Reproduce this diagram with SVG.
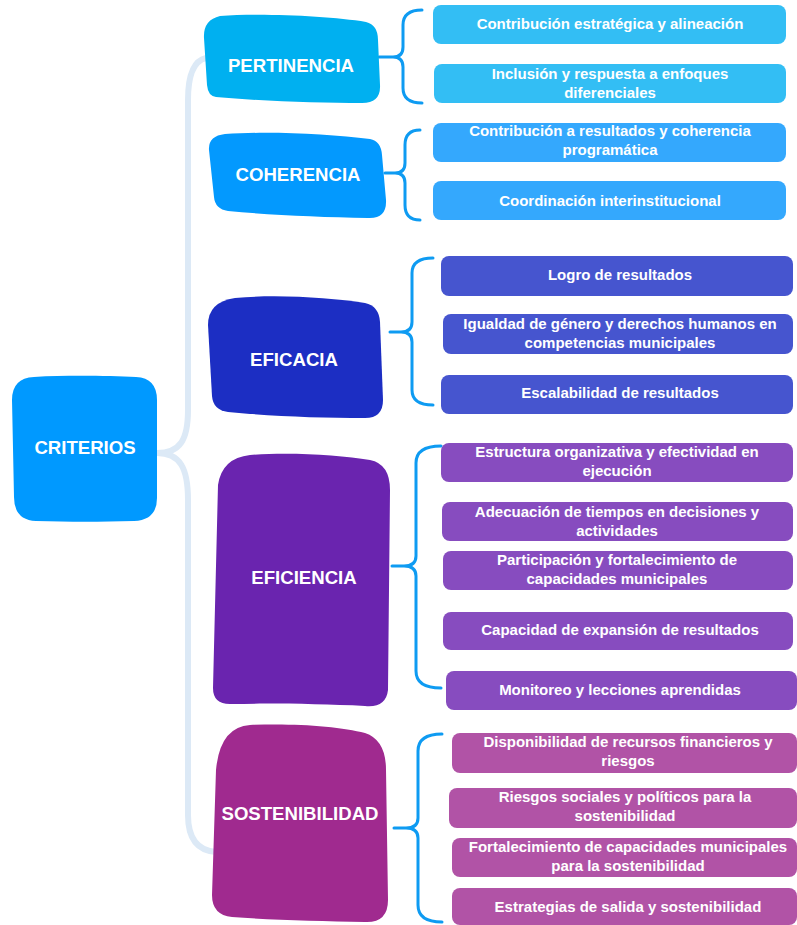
<svg xmlns="http://www.w3.org/2000/svg" width="797" height="925" viewBox="0 0 797 925">
<style>
.main{font-family:"Liberation Sans",Arial,sans-serif;font-weight:bold;font-size:18.6px;fill:#fff;text-anchor:middle}
.leaf{font-family:"Liberation Sans",Arial,sans-serif;font-weight:bold;font-size:15px;fill:#fff;text-anchor:middle}
.trunk{fill:none;stroke:#DCE9F6;stroke-width:6;stroke-linecap:round}
.brace{fill:none;stroke:#0E9BF2;stroke-width:3;stroke-linecap:round;stroke-linejoin:round}
.lp{fill:#33BEF4}.lc{fill:#34A8FD}.la{fill:#4655CF}.le{fill:#874CBF}.ls{fill:#B153A6}
</style>
<rect width="797" height="925" fill="#fff"/>
<g id="connectors">
<path class="trunk" d="M157,453 C180,453 188,440 188,410 L188,100 Q188,62 206,58"/>
<path class="trunk" d="M157,453 C180,453 188,468 188,500 L188,815 Q188,850 216,852"/>
<path class="brace" d="M379,57 L393,57 M422,10 Q403,10 403,25 L403,47 Q403,57 393,57 Q403,57 403,67 L403,88 Q403,103 422,103"/>
<path class="brace" d="M385,173 L395,173 M420,130 Q405,130 405,145 L405,163 Q405,173 395,173 Q405,173 405,183 L405,205 Q405,220 420,220"/>
<path class="brace" d="M390,332 L401,332 M433,258 Q412,258 412,273 L412,322 Q412,332 401,332 Q412,332 412,342 L412,390 Q412,405 433,405"/>
<path class="brace" d="M392,566 L404,566 M441,446 Q416,446 416,463 L416,556 Q416,566 404,566 Q416,566 416,576 L416,671 Q416,688 441,688"/>
<path class="brace" d="M394,828 L406,828 M442,734 Q418,734 418,751 L418,818 Q418,828 406,828 Q418,828 418,838 L418,905 Q418,922 442,922"/>
</g>
<g id="criterios">
<path d="M34,377 C70,375 110,376 136,377 Q157,378 157,400 L157,498 Q157,520 134,521 C100,522 70,522 36,521 Q14,520 14,497 L12,400 Q12,378 34,377 Z" fill="#0099FF"/>
<text class="main" x="85" y="454">CRITERIOS</text>
</g>
<g id="pertinencia">
<path d="M220,16 C260,13 330,16 366,22 Q378,25 378,40 L380,85 Q381,103 362,103 C320,103 260,101 216,97 Q208,96 207,85 L204,38 Q203,20 220,16 Z" fill="#00B0F0"/>
<text class="main" x="291" y="72">PERTINENCIA</text>
</g>
<g id="coherencia">
<path d="M225,134 C270,131 330,134 370,139 Q381,141 382,155 L386,200 Q387,219 368,218 C320,217 270,215 228,211 Q215,209 214,197 L209,150 Q208,136 225,134 Z" fill="#0399FE"/>
<text class="main" x="298" y="181">COHERENCIA</text>
</g>
<g id="eficacia">
<path d="M235,298 C280,294 330,298 365,303 Q379,306 380,322 L383,400 Q383,418 365,418 C320,418 270,416 228,412 Q213,410 212,396 L208,325 Q208,302 235,298 Z" fill="#1C2EC3"/>
<text class="main" x="294" y="366">EFICACIA</text>
</g>
<g id="eficiencia">
<path d="M250,455 C290,452 340,455 370,460 Q390,464 390,490 L388,690 Q386,708 365,706 C320,704 270,703 232,704 Q213,705 213,688 L218,485 Q222,458 250,455 Z" fill="#6A24AF"/>
<text class="main" x="304" y="584">EFICIENCIA</text>
</g>
<g id="sostenibilidad">
<path d="M250,725 C290,723 340,726 365,733 Q386,740 386,770 L388,900 Q388,923 365,922 C320,921 270,920 232,917 Q212,915 212,895 L216,770 Q220,727 250,725 Z" fill="#A02A8F"/>
<text class="main" x="300" y="820">SOSTENIBILIDAD</text>
</g>
<g id="leaf1"><rect class="lp" x="433" y="5" width="353" height="39" rx="8"/><text class="leaf" x="610" y="29">Contribución estratégica y alineación</text></g>
<g id="leaf2"><rect class="lp" x="434" y="64" width="352" height="39" rx="8"/><text class="leaf" x="610" y="79">Inclusión y respuesta a enfoques</text><text class="leaf" x="610" y="98">diferenciales</text></g>
<g id="leaf3"><rect class="lc" x="433" y="123" width="353" height="39" rx="8"/><text class="leaf" x="610" y="136">Contribución a resultados y coherencia</text><text class="leaf" x="610" y="155">programática</text></g>
<g id="leaf4"><rect class="lc" x="433" y="181" width="353" height="39" rx="8"/><text class="leaf" x="610" y="206">Coordinación interinstitucional</text></g>
<g id="leaf5"><rect class="la" x="441" y="256" width="352" height="40" rx="8"/><text class="leaf" x="620" y="280">Logro de resultados</text></g>
<g id="leaf6"><rect class="la" x="443" y="314" width="350" height="40" rx="8"/><text class="leaf" x="620" y="329">Igualdad de género y derechos humanos en</text><text class="leaf" x="620" y="348">competencias municipales</text></g>
<g id="leaf7"><rect class="la" x="441" y="375" width="352" height="39" rx="8"/><text class="leaf" x="620" y="398">Escalabilidad de resultados</text></g>
<g id="leaf8"><rect class="le" x="441" y="443" width="352" height="39" rx="8"/><text class="leaf" x="617" y="457">Estructura organizativa y efectividad en</text><text class="leaf" x="617" y="476">ejecución</text></g>
<g id="leaf9"><rect class="le" x="442" y="502" width="351" height="39" rx="8"/><text class="leaf" x="617" y="517">Adecuación de tiempos en decisiones y</text><text class="leaf" x="617" y="536">actividades</text></g>
<g id="leaf10"><rect class="le" x="443" y="551" width="350" height="39" rx="8"/><text class="leaf" x="617" y="565">Participación y fortalecimiento de</text><text class="leaf" x="617" y="584">capacidades municipales</text></g>
<g id="leaf11"><rect class="le" x="443" y="612" width="350" height="38" rx="8"/><text class="leaf" x="620" y="635">Capacidad de expansión de resultados</text></g>
<g id="leaf12"><rect class="le" x="446" y="671" width="351" height="39" rx="8"/><text class="leaf" x="620" y="695">Monitoreo y lecciones aprendidas</text></g>
<g id="leaf13"><rect class="ls" x="452" y="733" width="345" height="40" rx="8"/><text class="leaf" x="628" y="747">Disponibilidad de recursos financieros y</text><text class="leaf" x="628" y="766">riesgos</text></g>
<g id="leaf14"><rect class="ls" x="449" y="788" width="348" height="40" rx="8"/><text class="leaf" x="625" y="802">Riesgos sociales y políticos para la</text><text class="leaf" x="625" y="821">sostenibilidad</text></g>
<g id="leaf15"><rect class="ls" x="452" y="838" width="345" height="39" rx="8"/><text class="leaf" x="628" y="852">Fortalecimiento de capacidades municipales</text><text class="leaf" x="628" y="871">para la sostenibilidad</text></g>
<g id="leaf16"><rect class="ls" x="452" y="888" width="345" height="37" rx="8"/><text class="leaf" x="628" y="912">Estrategias de salida y sostenibilidad</text></g>
</svg>
